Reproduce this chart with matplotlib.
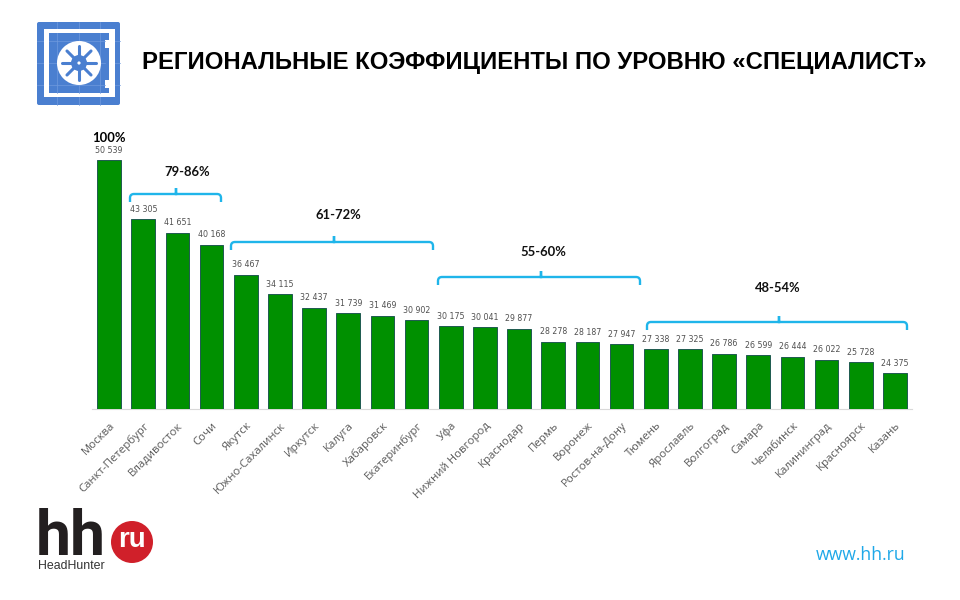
import matplotlib
matplotlib.use('Agg')
import matplotlib.pyplot as plt
import numpy as np
from matplotlib.patches import Circle, FancyBboxPatch, PathPatch, Rectangle
from matplotlib.path import Path

cities = ['Москва', 'Санкт-Петербург', 'Владивосток', 'Сочи', 'Якутск', 'Южно-Сахалинск',
          'Иркутск', 'Калуга', 'Хабаровск', 'Екатеринбург', 'Уфа', 'Нижний Новгород',
          'Краснодар', 'Пермь', 'Воронеж', 'Ростов-на-Дону', 'Тюмень', 'Ярославль',
          'Волгоград', 'Самара', 'Челябинск', 'Калининград', 'Красноярск', 'Казань']
salary = [50539, 43305, 41651, 40168, 36467, 34115, 32437, 31739, 31469, 30902, 30175, 30041,
          29877, 28278, 28187, 27947, 27338, 27325, 26786, 26599, 26444, 26022, 25728, 24375]
group_labels = ['79-86%', '61-72%', '55-60%', '48-54%']

BLUE = '#4a7fd0'
CYAN = '#1fb5ea'

plt.rcParams['font.family'] = ['Open Sans', 'DejaVu Sans']

fig = plt.figure(figsize=(9.6, 6), dpi=100)
ax = fig.add_axes([92 / 960, 1 - 409 / 600, 820 / 960, 285 / 600])
x = np.arange(len(cities))
ax.bar(x, salary, width=0.69, color='#009000', edgecolor='#1f5a50', linewidth=0.7, zorder=3)
ax.set_xlim(-0.5, 23.5)
ax.set_ylim(20000, 55000)
ax.set_yticks([])
for s in ['top', 'left', 'right']:
    ax.spines[s].set_visible(False)
ax.spines['bottom'].set_color('#d9d9d9')
ax.set_xticks(x)
ax.set_xticklabels(cities, rotation=45, ha='right', rotation_mode='anchor',
                   fontsize=8.2, color='#595959')
ax.tick_params(axis='x', length=0, pad=8)
for i, v in enumerate(salary):
    txt = f'{v:,}'.replace(',', ' ')
    ax.annotate(txt, (i, v), xytext=(0, 4), textcoords='offset points', ha='center', va='bottom',
                fontsize=5.7, family='DejaVu Sans', color='#505050')

# слой в пикселях для заголовка, скобок и логотипов
ov = fig.add_axes([0, 0, 1, 1], zorder=5)
ov.set_xlim(0, 960)
ov.set_ylim(600, 0)
ov.axis('off')
ov.patch.set_alpha(0)

ov.text(534, 63, 'РЕГИОНАЛЬНЫЕ КОЭФФИЦИЕНТЫ ПО УРОВНЮ «СПЕЦИАЛИСТ»', ha='center', va='center',
        fontsize=17.2, fontweight='bold', family='Liberation Sans', color='black')
ov.text(109, 138, '100%', ha='center', va='center', fontsize=9.4, fontweight='bold',
        family='Lato', color='black')


def bracket(x0, x1, y, xm):
    r = 4
    verts = [(x0, y + 8), (x0, y + r), (x0, y), (x0 + r, y), (xm - 1, y), (xm, y), (xm, y - 6),
             (xm, y), (xm + 1, y), (x1 - r, y), (x1, y), (x1, y + r), (x1, y + 8)]
    codes = [Path.MOVETO, Path.LINETO, Path.CURVE3, Path.CURVE3, Path.LINETO, Path.LINETO, Path.LINETO,
             Path.LINETO, Path.LINETO, Path.LINETO, Path.CURVE3, Path.CURVE3, Path.LINETO]
    ov.add_patch(PathPatch(Path(verts, codes), fill=False, edgecolor=CYAN, linewidth=1.7))


# скобки: левый край, правый край, высота, выступ; затем подпись
bracket(130, 221, 194, 176)
bracket(231, 433, 242, 334)
bracket(438, 640, 277, 541)
bracket(647, 907, 322, 779)
ov.text(187, 172, group_labels[0], ha='center', va='center', fontsize=9.4, fontweight='bold', family='Lato', color='#111111')
ov.text(338, 215, group_labels[1], ha='center', va='center', fontsize=9.4, fontweight='bold', family='Lato', color='#111111')
ov.text(543, 252, group_labels[2], ha='center', va='center', fontsize=9.4, fontweight='bold', family='Lato', color='#111111')
ov.text(778, 288, group_labels[3], ha='center', va='center', fontsize=9.4, fontweight='bold', family='Lato', color='#111111')

# значок сейфа
ov.add_patch(FancyBboxPatch((37, 22), 83, 83, boxstyle='round,pad=0,rounding_size=2',
                            facecolor=BLUE, edgecolor='none', zorder=1))
for g in [57, 79, 100]:
    ov.plot([g, g], [22, 105], color='#6f9ade', lw=0.5, zorder=1.1)
for g in [41, 63, 85]:
    ov.plot([37, 120], [g, g], color='#6f9ade', lw=0.5, zorder=1.1)
ov.add_patch(Rectangle((44, 29), 71, 68, facecolor='white', edgecolor='none', zorder=1.2))
ov.add_patch(Rectangle((49, 33), 60, 60, facecolor=BLUE, edgecolor='none', zorder=1.3))
ov.add_patch(Rectangle((105, 40), 4, 8, facecolor='white', edgecolor='none', zorder=1.3))
ov.add_patch(Rectangle((105, 80), 4, 8, facecolor='white', edgecolor='none', zorder=1.3))
for g in [57, 79, 100]:
    ov.plot([g, g], [33, 93], color='#6f9ade', lw=0.5, zorder=1.4)
for g in [41, 63, 85]:
    ov.plot([49, 105], [g, g], color='#6f9ade', lw=0.5, zorder=1.4)
ov.add_patch(Circle((79, 63), 22, facecolor='white', edgecolor='none', zorder=2))
for ang in np.arange(0, 360, 45):
    dx, dy = np.cos(np.radians(ang)), np.sin(np.radians(ang))
    ov.plot([79 + 4 * dx, 79 + 17 * dx], [63 + 4 * dy, 63 + 17 * dy], color=BLUE, lw=2.2,
            solid_capstyle='round', zorder=3)
ov.add_patch(Circle((79, 63), 8, facecolor=BLUE, edgecolor='none', zorder=3))
ov.add_patch(Circle((79, 63), 1.6, facecolor='white', edgecolor='none', zorder=4))

# логотип hh.ru
ov.text(36, 555, 'hh', ha='left', va='baseline', fontsize=45, fontweight='bold',
        family='Roboto', color='#231f20')
ov.add_patch(Circle((132, 542), 21, facecolor='#d0202a', edgecolor='none'))
ov.text(132, 540, 'ru', ha='center', va='center', fontsize=20, fontweight='bold',
        family='Liberation Sans', color='white')
ov.text(38, 566, 'HeadHunter', ha='left', va='center', fontsize=8.9,
        family='Liberation Sans', color='#333333')

ov.text(861, 555, 'www.hh.ru', ha='center', va='center', fontsize=12.7, color='#1fa8e8')

fig.savefig('out.png', dpi=100)
